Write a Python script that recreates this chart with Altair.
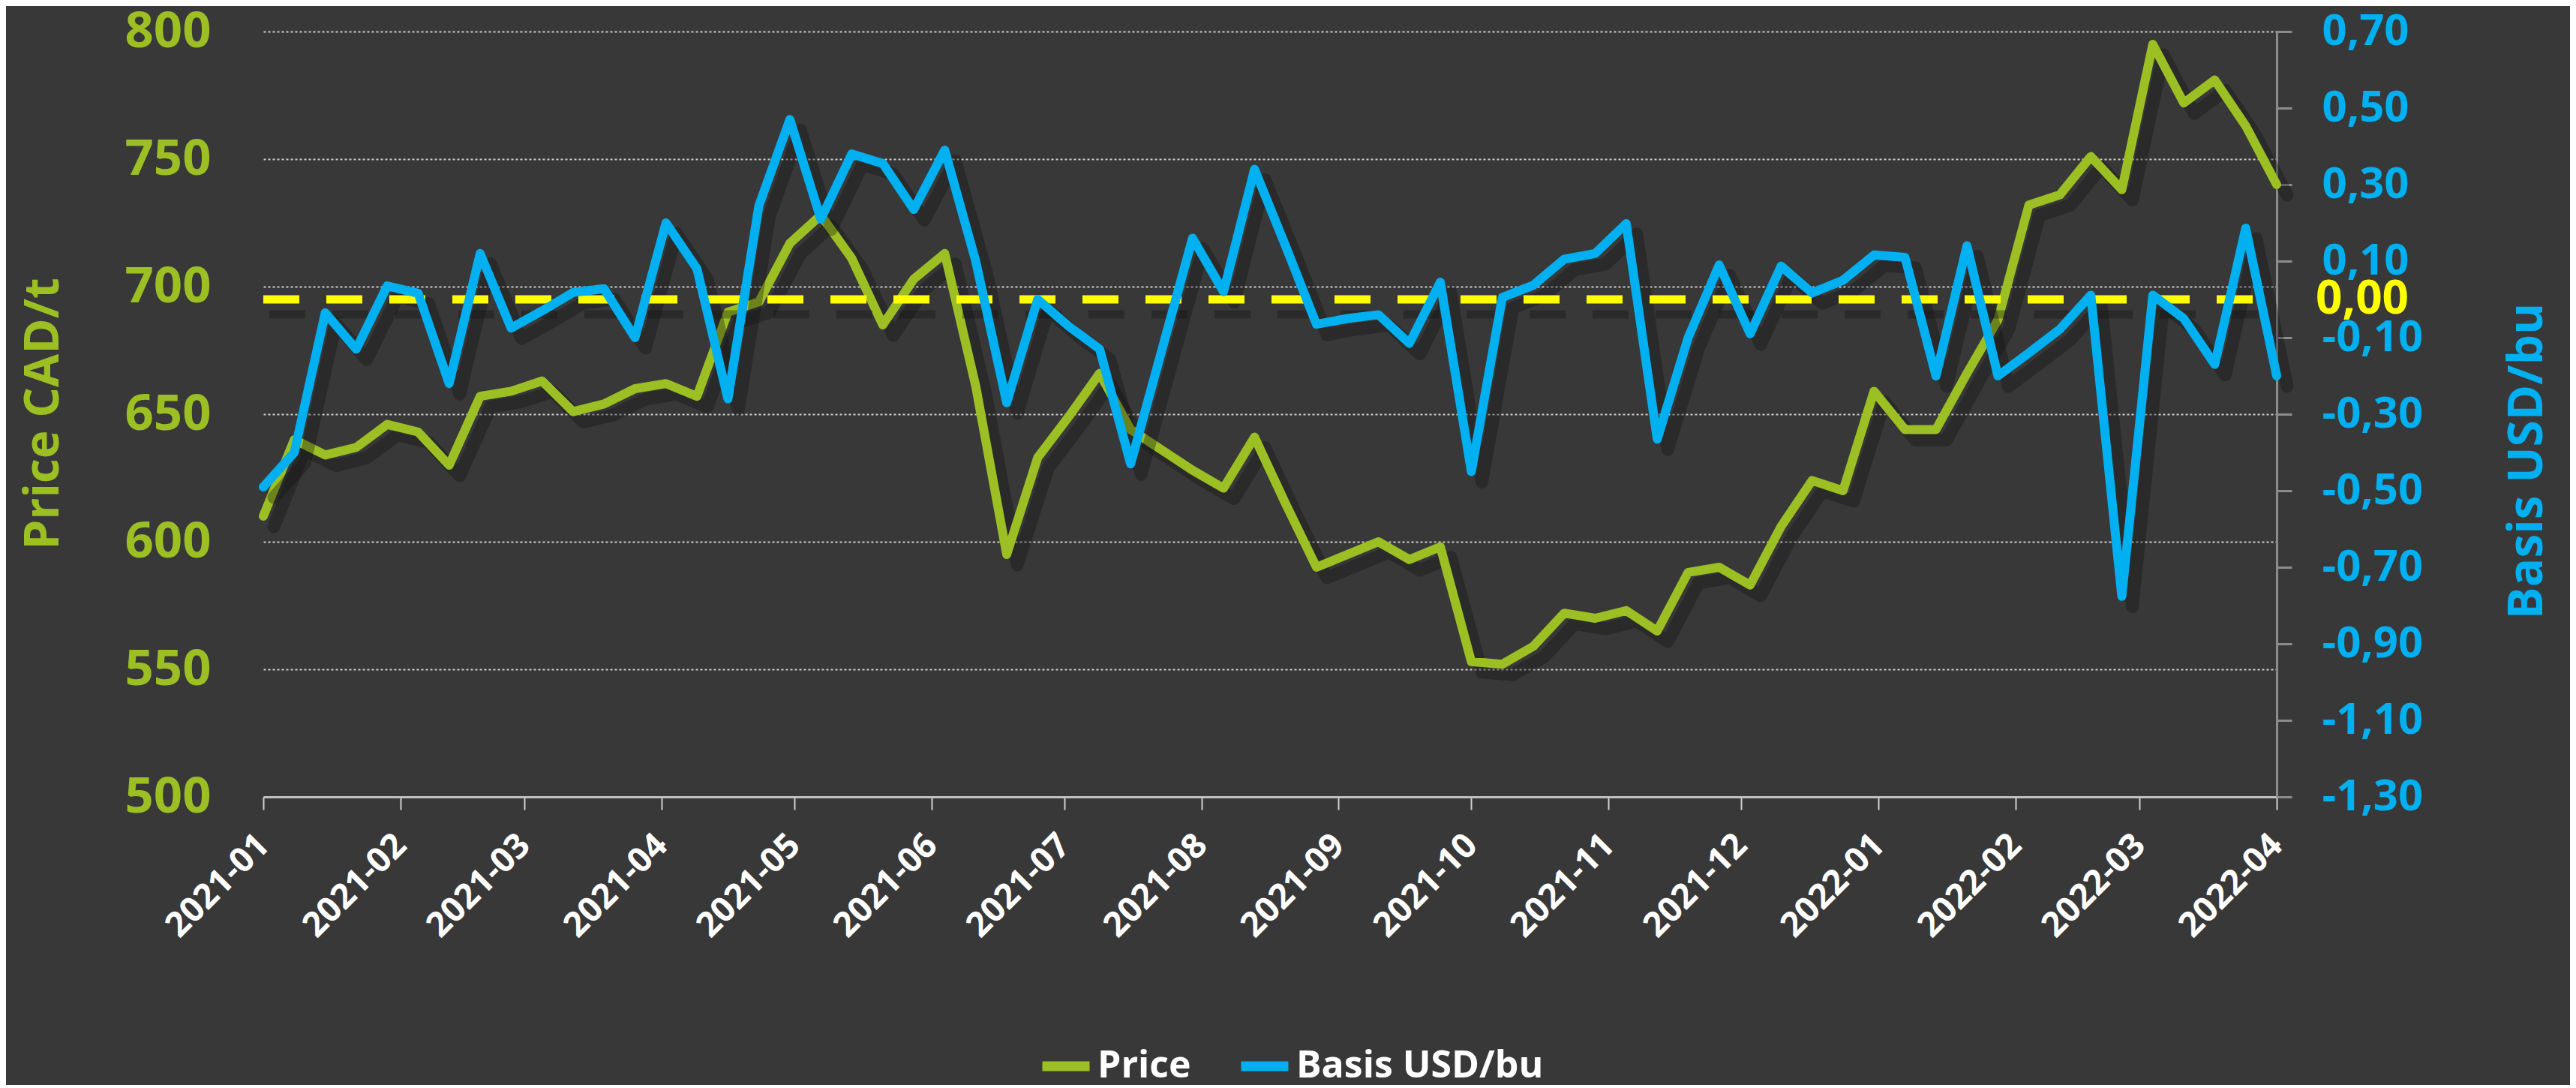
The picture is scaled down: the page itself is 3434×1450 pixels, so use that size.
import altair as alt
import pandas as pd

# weekly observations, 2021-01-01 .. 2022-04-01
dates = pd.date_range("2021-01-01", periods=66, freq="7D").strftime("%Y-%m-%d").tolist()

price = [610, 640, 634, 637, 646, 643, 630, 657, 659, 663,
         651, 654, 660, 662, 657, 690, 694, 717, 728, 711,
         685, 703, 713, 661, 595, 633, 649, 666, 644, 636,
         628, 621, 641, 615, 590, 595, 600, 593, 598, 553,
         552, 559, 572, 570, 573, 565, 588, 590, 583, 606,
         624, 620, 659, 644, 644, 666, 687, 732, 736, 751,
         738, 795, 772, 781, 763, 740]

basis = [-0.49, -0.40, -0.035, -0.13, 0.035, 0.016, -0.22, 0.12, -0.075, -0.03,
         0.018, 0.028, -0.10, 0.20, 0.08, -0.26, 0.245, 0.47, 0.21, 0.38,
         0.355, 0.235, 0.39, 0.10, -0.27, 0.00, -0.07, -0.13, -0.43, -0.135,
         0.16, 0.02, 0.34, 0.14, -0.065, -0.05, -0.04, -0.115, 0.045, -0.45,
         0.005, 0.037, 0.105, 0.12, 0.198, -0.365, -0.10, 0.09, -0.09, 0.087,
         0.017, 0.05, 0.116, 0.11, -0.20, 0.14, -0.20, -0.14, -0.078, 0.011,
         -0.776, 0.011, -0.05, -0.17, 0.186, -0.20]

series_names = ["Price", "Basis USD/bu"]
left_ticks = [500, 550, 600, 650, 700, 750, 800]
right_ticks = [0.7, 0.5, 0.3, 0.1, -0.1, -0.3, -0.5, -0.7, -0.9, -1.1, -1.3]
month_ticks = [(2021, m) for m in range(1, 13)] + [(2022, m) for m in range(1, 5)]

GREEN = "#9CBF24"
BLUE = "#00B0F0"
YELLOW = "#FFFF00"
BG = "#383838"
FONT = "Open Sans"

df = pd.DataFrame({"date": dates, "price": price, "basis": basis})
df["s_price"] = series_names[0]
df["s_basis"] = series_names[1]

W, H = 2684, 1020

color_scale = alt.Scale(domain=series_names, range=[GREEN, BLUE])
legend = alt.Legend(
    title=None, orient="none", direction="horizontal", legendX=1032, legendY=1341,
    symbolType="stroke", symbolSize=3969, symbolStrokeWidth=13,
    labelFont=FONT, labelFontSize=50, labelFontWeight="bold", labelColor="white",
    labelOffset=4, columnPadding=40, labelLimit=600,
)

x_enc = alt.X(
    "date:T",
    scale=alt.Scale(type="utc",
                    domain=[alt.DateTime(year=2021, month=1, date=1, utc=True),
                            alt.DateTime(year=2022, month=4, date=1, utc=True)]),
    axis=alt.Axis(
        title=None,
        values=[alt.DateTime(year=y, month=m, date=1, utc=True) for y, m in month_ticks],
        labelExpr="utcFormat(datum.value, '%Y-%m')",
        labelAngle=-45, labelAlign="right", labelBaseline="middle",
        labelFont=FONT, labelFontSize=46, labelFontWeight="bold", labelColor="white",
        labelPadding=40, domainColor="#BFBFBF", domainWidth=3,
        tickColor="#D0D0D0", tickSize=17, tickWidth=2, grid=False, labelOverlap=False,
    ),
)

y_price_scale = alt.Scale(domain=[500, 800], nice=False, zero=False)
y_price_axis = alt.Axis(
    title="Price CAD/t", titleColor=GREEN, titleFont=FONT, titleFontSize=64,
    titleFontWeight="bold", titleAngle=270, titleX=-293, titleY=509,
    titleAlign="center", titleBaseline="middle",
    values=left_ticks, labelColor=GREEN, labelFont=FONT, labelFontSize=67,
    labelFontWeight="bold", labelPadding=70, ticks=False, domain=False,
    grid=True, gridColor="#D0D0D0", gridDash=[3, 3], gridWidth=2,
)

y_basis_scale = alt.Scale(domain=[-1.3, 0.7], nice=False, zero=False)
y_basis_axis = alt.Axis(
    orient="right",
    title="Basis USD/bu", titleColor=BLUE, titleFont=FONT, titleFontSize=64,
    titleFontWeight="bold", titleAngle=270, titleX=334, titleY=572,
    titleAlign="center", titleBaseline="middle",
    values=right_ticks,
    labelExpr="replace(replace(format(datum.value, '.2f'), '.', ','), '\u2212', '-')",
    labelColor=BLUE, labelFont=FONT, labelFontSize=58, labelFontWeight="bold",
    labelPadding=40, tickSize=20, tickWidth=3, tickColor="#8C8C8C",
    domainColor="#8C8C8C", domainWidth=3, grid=False, labelOverlap=False,
)

base = alt.Chart(df)

price_shadow = base.mark_line(color="#101010", opacity=0.35, strokeWidth=17,
                              xOffset=14, yOffset=14, strokeJoin="round", strokeCap="round").encode(
    x=x_enc, y=alt.Y("price:Q", scale=y_price_scale, axis=y_price_axis))
price_line = base.mark_line(strokeWidth=12, strokeJoin="round", strokeCap="round").encode(
    x=x_enc, y=alt.Y("price:Q", scale=y_price_scale, axis=y_price_axis),
    color=alt.Color("s_price:N", scale=color_scale, legend=legend))

price_group = alt.layer(price_shadow, price_line)

basis_shadow = base.mark_line(color="#101010", opacity=0.35, strokeWidth=17,
                              xOffset=14, yOffset=14, strokeJoin="round", strokeCap="round").encode(
    x=x_enc, y=alt.Y("basis:Q", scale=y_basis_scale, axis=y_basis_axis))
zero_df = pd.DataFrame({"basis": [0]})
zero_shadow = alt.Chart(zero_df).mark_rule(color="#101010", opacity=0.35, strokeWidth=11,
                                           strokeDash=[48, 36], xOffset=8, yOffset=20).encode(
    x=alt.value(0), x2=alt.value(W - 20),
    y=alt.Y("basis:Q", scale=y_basis_scale, axis=y_basis_axis))
zero_rule = alt.Chart(zero_df).mark_rule(color=YELLOW, strokeWidth=11, strokeDash=[48, 36]).encode(
    x=alt.value(0), x2=alt.value(W - 20),
    y=alt.Y("basis:Q", scale=y_basis_scale, axis=y_basis_axis))
basis_line = base.mark_line(strokeWidth=12, strokeJoin="round", strokeCap="round").encode(
    x=x_enc, y=alt.Y("basis:Q", scale=y_basis_scale, axis=y_basis_axis),
    color=alt.Color("s_basis:N", scale=color_scale, legend=legend))
zero_label = alt.Chart(zero_df).mark_text(text="0,00", color=YELLOW, font=FONT, fontSize=62,
                                          fontWeight="bold", align="left", baseline="middle").encode(
    x=alt.value(2736), y=alt.Y("basis:Q", scale=y_basis_scale, axis=y_basis_axis))

basis_group = alt.layer(basis_shadow, zero_shadow, zero_rule, basis_line, zero_label)

chart = alt.layer(price_group, basis_group).resolve_scale(y="independent").properties(
    width=W, height=H,
    autosize=alt.AutoSizeParams(type="none"),
    padding={"left": 343, "top": 34, "right": 391, "bottom": 384},
    background=BG,
).configure_view(stroke=None)

chart.save("out.html", embed_options={"renderer": "svg", "actions": False})
